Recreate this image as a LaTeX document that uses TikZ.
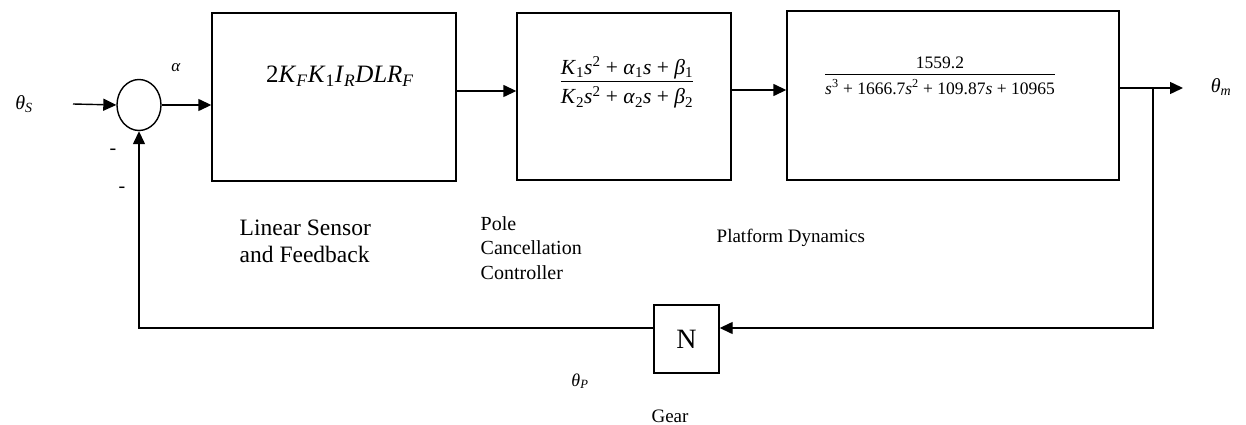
\documentclass[tikz,border=0pt]{standalone}
\usepackage{fontspec}
\setmainfont{Liberation Serif}
\usetikzlibrary{arrows.meta,shapes.geometric}
\begin{document}
\begin{tikzpicture}[x=1pt,y=-1pt,line width=1.4pt,
  blk/.style={draw,rectangle,inner sep=0pt,line width=1.4pt},
  arr/.style={-{Triangle[length=13pt,width=12pt]}},
  lbl/.style={inner sep=0pt,font=\fontsize{20}{24}\selectfont},
  captxt/.style={inner sep=0pt,align=left,font=\fontsize{23.5}{27}\selectfont}]
\path[use as bounding box] (0,0) rectangle (1246,425);
% summing junction
\node[draw,ellipse,minimum width=44pt,minimum height=51pt,inner sep=0pt] (sum) at (139,105) {};
% blocks
\node[blk,minimum width=244pt,minimum height=168pt] (b1) at (334,97) {};
\node[blk,minimum width=214pt,minimum height=167pt] (b2) at (624,96.5) {};
\node[blk,minimum width=332pt,minimum height=169pt] (b3) at (953,95.5) {};
\node[blk,minimum width=65pt,minimum height=68pt] (N) at (686.5,339) {\fontsize{28}{30}\selectfont N};
% block contents
\node[inner sep=0pt,font=\fontsize{25}{28}\selectfont] (t1) at (340,76)
  {2\textit{K}\textsubscript{\textit{F}}\textit{K}\textsubscript{1}\textit{I}\textsubscript{\textit{R}}\textit{DLR}\textsubscript{\textit{F}}};
\node[inner sep=0pt,font=\fontsize{21.5}{24}\selectfont] (t2) at (627,84)
  {\setlength\tabcolsep{0pt}\begin{tabular}{c}
   \textit{K}\textsubscript{1}\textit{s}\textsuperscript{2} + \textit{α}\textsubscript{1}\textit{s} + \textit{β}\textsubscript{1}\\[-1pt]\hline\rule{0pt}{23pt}%
   \textit{K}\textsubscript{2}\textit{s}\textsuperscript{2} + \textit{α}\textsubscript{2}\textit{s} + \textit{β}\textsubscript{2}
  \end{tabular}};
\node[inner sep=0pt,font=\fontsize{17.5}{21}\selectfont] (t3) at (940,77)
  {\setlength\tabcolsep{0pt}\begin{tabular}{c}
   1559.2\\[-1pt]\hline\rule{0pt}{20pt}%
   \textit{s}\textsuperscript{3} + 1666.7\textit{s}\textsuperscript{2} + 109.87\textit{s} + 10965
  \end{tabular}};
% connectors
\coordinate (in) at (73,104);
\coordinate (out) at (1183,88);
\coordinate (br) at (1153,88);
\draw[arr] (in) -- (sum.west);
\draw[arr] (sum.east) -- (sum.east -| b1.west);
\draw[arr] ([yshift=6pt]b1.east) -- ([yshift=6pt]b1.east -| b2.west);
\draw[arr] ([yshift=6.5pt]b2.east) -- ([yshift=6.5pt]b2.east -| b3.west);
\draw[arr] ([yshift=7.5pt]b3.east) -- (out);
\draw[arr] (br) |- ([yshift=11pt]N.east);
\draw[arr] ([yshift=11pt]N.west) -| (sum.south);
% labels
\node[lbl] (thS) at (24,104) {\textit{θ}\textsubscript{\textit{S}}};
\node[lbl] (thm) at (1221,87) {\textit{θ}\textsubscript{\textit{m}}};
\node[lbl,font=\fontsize{17}{20}\selectfont] (alpha) at (176,68) {\textit{α}};
\node[lbl] (m1) at (113,152) {-};
\node[lbl] (m2) at (122,190) {-};
\node[lbl,font=\fontsize{18}{20}\selectfont] (thP) at (580,381) {\textit{θ}\textsubscript{\textit{P}}};
\node[captxt,anchor=west] (c1) at (239,241) {Linear Sensor\\and Feedback};
\node[captxt,anchor=west,font=\fontsize{20}{24.5}\selectfont] (c2) at (480,248) {Pole\\Cancellation\\Controller};
\node[inner sep=0pt,anchor=west,font=\fontsize{19}{24}\selectfont] (c3) at (716,238) {Platform Dynamics};
\node[inner sep=0pt,font=\fontsize{19}{24}\selectfont] (c4) at (670,416) {Gear};
\end{tikzpicture}
\end{document}
